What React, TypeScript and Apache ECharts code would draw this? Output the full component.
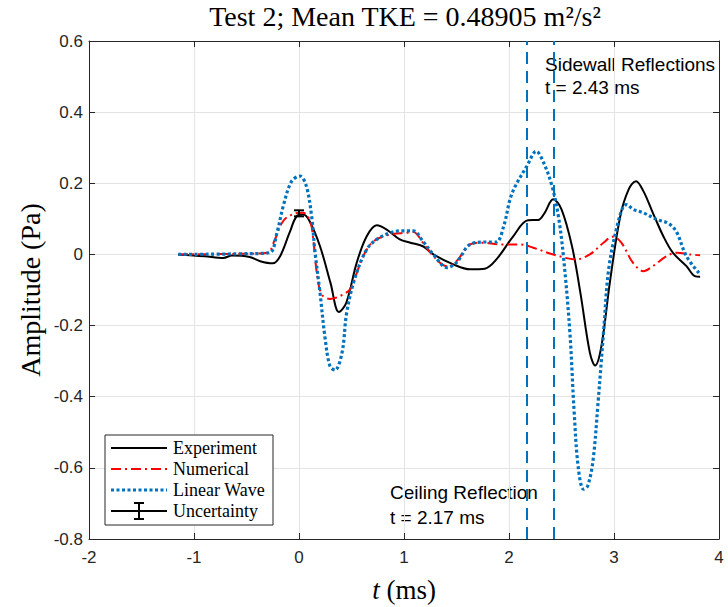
import React, { useEffect, useRef } from "react";
import * as echarts from "echarts";

// ---- data ----
const expTime = [-1.15, -0.9, -0.72, -0.64, -0.47, -0.37, -0.25, -0.18, -0.09, -0.02, 0.04, 0.1, 0.2, 0.3, 0.38, 0.45, 0.55, 0.645, 0.74, 0.835, 0.96, 1.06, 1.18, 1.28, 1.47, 1.63, 1.77, 1.88, 2.04, 2.18, 2.28, 2.34, 2.42, 2.5, 2.6, 2.68, 2.77, 2.82, 2.88, 2.96, 3.06, 3.14, 3.21, 3.28, 3.37, 3.47, 3.56, 3.69, 3.77, 3.82];
const expAmp = [0, -0.005, -0.01, -0.003, -0.007, -0.019, -0.025, -0.005, 0.061, 0.108, 0.112, 0.094, 0.023, -0.08, -0.162, -0.136, -0.023, 0.051, 0.082, 0.07, 0.042, 0.033, 0.023, 0, -0.028, -0.042, -0.04, -0.014, 0.051, 0.096, 0.097, 0.117, 0.155, 0.127, 0.023, -0.108, -0.276, -0.312, -0.258, -0.08, 0.108, 0.183, 0.206, 0.178, 0.117, 0.051, 0.005, -0.033, -0.061, -0.063];

const numTime = [-1.15, -0.5, -0.3, -0.23, -0.15, -0.05, 0.04, 0.105, 0.136, 0.17, 0.216, 0.295, 0.39, 0.486, 0.55, 0.61, 0.71, 0.867, 1.03, 1.09, 1.18, 1.28, 1.41, 1.5, 1.63, 1.755, 1.91, 2.1, 2.23, 2.42, 2.64, 2.77, 2.9, 2.99, 3.07, 3.18, 3.28, 3.37, 3.5, 3.6, 3.72, 3.82];
const numAmp = [0, 0.002, 0.005, 0.042, 0.094, 0.114, 0.117, 0.094, 0.042, -0.052, -0.112, -0.125, -0.117, -0.098, -0.052, -0.005, 0.037, 0.056, 0.061, 0.063, 0.033, -0.005, -0.033, -0.019, 0.028, 0.033, 0.028, 0.028, 0.019, 0, -0.014, 0, 0.033, 0.05, 0.033, -0.023, -0.047, -0.033, -0.005, 0.005, 0, -0.002];

const linTime = [-1.15, -0.5, -0.28, -0.21, -0.15, -0.07, 0.01, 0.07, 0.12, 0.15, 0.2, 0.25, 0.295, 0.343, 0.41, 0.454, 0.533, 0.645, 0.74, 0.867, 0.96, 1.09, 1.18, 1.28, 1.41, 1.5, 1.63, 1.79, 1.88, 1.95, 2.01, 2.06, 2.17, 2.26, 2.33, 2.41, 2.47, 2.52, 2.58, 2.62, 2.66, 2.71, 2.75, 2.8, 2.85, 2.9, 2.95, 3.03, 3.09, 3.12, 3.18, 3.28, 3.41, 3.5, 3.55, 3.6, 3.69, 3.82];
const linAmp = [0, 0.002, 0.005, 0.061, 0.136, 0.206, 0.22, 0.192, 0.108, 0.014, -0.108, -0.239, -0.314, -0.325, -0.276, -0.164, -0.066, 0.014, 0.042, 0.061, 0.066, 0.066, 0.037, 0, -0.037, -0.023, 0.028, 0.035, 0.035, 0.08, 0.155, 0.192, 0.248, 0.29, 0.258, 0.192, 0.108, -0.01, -0.22, -0.44, -0.6, -0.66, -0.65, -0.58, -0.41, -0.22, -0.04, 0.08, 0.136, 0.14, 0.127, 0.117, 0.098, 0.09, 0.08, 0.061, -0.005, -0.056];

const errTime = [0];
const errLow = [0.107];
const errHigh = [0.124];

const reflectionTimes = [2.17, 2.43];
const reflectionNames = ["Ceiling Reflection", "Sidewall Reflections"];
const legendNames = ["Experiment", "Numerical", "Linear Wave", "Uncertainty"];

const TICK_FONT = "'Liberation Sans', Arial, Helvetica, sans-serif";
const SERIF = "'Liberation Serif', 'Times New Roman', serif";
const AXIS_COLOR = "#262626";

const pairs = (t: number[], v: number[]) => t.map((x, i) => [x, v[i]]);

export default function App() {
  const ref = useRef<HTMLDivElement>(null);
  useEffect(() => {
    if (!ref.current) return;
    const chart = echarts.init(ref.current, null, { renderer: "svg" });

    const axisCommon = {
      type: "value" as const,
      axisLine: { show: true, onZero: false, lineStyle: { color: AXIS_COLOR, width: 1 } },
      axisTick: { show: true, inside: true, length: 6, lineStyle: { color: AXIS_COLOR } },
    };

    const lx = 111, lx2 = 167, ly = [448, 469, 490, 511];
    const LZ = 100;
    const seg = (y: number, stroke: string, lineWidth: number, lineDash?: number[]) => ({
      type: "polyline",
      z: LZ + 1,
      shape: { points: [[lx, y], [lx2, y]] },
      style: { stroke, lineWidth, fill: null, lineDash: lineDash || null },
    });
    const bar = (x1: number, y1: number, x2: number, y2: number) => ({
      type: "polyline",
      z: LZ + 1,
      shape: { points: [[x1, y1], [x2, y2]] },
      style: { stroke: "#000000", lineWidth: 2, fill: null },
    });

    const option: any = {
      animation: false,
      backgroundColor: "#ffffff",
      grid: { left: 89, right: 9, top: 41, bottom: 68, containLabel: false },
      xAxis: [
        {
          ...axisCommon,
          position: "bottom",
          min: -2, max: 4, interval: 1,
          axisLabel: { color: AXIS_COLOR, fontSize: 17, fontFamily: TICK_FONT, margin: 10 },
          splitLine: { show: true, lineStyle: { color: "#e4e4e4", width: 1 } },
        },
        {
          ...axisCommon,
          position: "top",
          min: -2, max: 4, interval: 1,
          axisLabel: { show: false },
          splitLine: { show: false },
        },
      ],
      yAxis: [
        {
          ...axisCommon,
          position: "left",
          min: -0.8, max: 0.6, interval: 0.2,
          axisLabel: {
            color: AXIS_COLOR, fontSize: 17, fontFamily: TICK_FONT, margin: 6,
            formatter: (v: number) => (Math.abs(v) < 1e-9 ? "0" : v.toFixed(1)),
          },
          splitLine: { show: true, lineStyle: { color: "#e4e4e4", width: 1 } },
        },
        {
          ...axisCommon,
          position: "right",
          min: -0.8, max: 0.6, interval: 0.2,
          axisLabel: { show: false },
          splitLine: { show: false },
        },
      ],
      series: [
        {
          name: legendNames[0],
          type: "line",
          data: pairs(expTime, expAmp),
          showSymbol: false,
          smooth: 0.35,
          lineStyle: { color: "#000000", width: 2 },
          z: 2,
        },
        {
          name: legendNames[1],
          type: "line",
          data: pairs(numTime, numAmp),
          showSymbol: false,
          smooth: 0.35,
          lineStyle: { color: "#ff0000", width: 2, type: [10, 4, 2, 4] },
          z: 3,
        },
        {
          name: legendNames[2],
          type: "line",
          data: pairs(linTime, linAmp),
          showSymbol: false,
          smooth: 0.35,
          lineStyle: { color: "#0072BD", width: 3.2, type: [3, 2.5], cap: "butt" },
          z: 4,
        },
        {
          name: legendNames[3],
          type: "custom",
          data: errTime.map((t, i) => [t, errLow[i], errHigh[i]]),
          encode: { x: 0, y: [1, 2] },
          z: 5,
          renderItem: (_p: any, api: any) => {
            const lo = api.coord([api.value(0), api.value(1)]);
            const hi = api.coord([api.value(0), api.value(2)]);
            const st = { stroke: "#000000", lineWidth: 2 };
            return {
              type: "group",
              children: [
                { type: "line", shape: { x1: lo[0], y1: lo[1], x2: hi[0], y2: hi[1] }, style: st },
                { type: "line", shape: { x1: lo[0] - 5, y1: lo[1], x2: lo[0] + 5, y2: lo[1] }, style: st },
                { type: "line", shape: { x1: hi[0] - 5, y1: hi[1], x2: hi[0] + 5, y2: hi[1] }, style: st },
              ],
            };
          },
        },
        {
          name: "reflections",
          type: "line",
          data: [],
          z: 6,
          markLine: {
            silent: true,
            symbol: "none",
            label: { show: false },
            lineStyle: { color: "#0072BD", width: 2, type: [12, 7] },
            data: reflectionTimes.map((t) => ({ xAxis: t })),
          },
        },
      ],
      graphic: [
        {
          type: "text", x: 405, y: 16,
          style: {
            text: "Test 2; Mean TKE = 0.48905 m²/s²",
            font: `28px ${SERIF}`, fill: "#000", align: "center", verticalAlign: "middle",
          },
        },
        {
          type: "text", x: 404, y: 590,
          style: {
            text: "{it|t} (ms)",
            rich: { it: { fontStyle: "italic", fontSize: 27, fontFamily: SERIF, fill: "#000" } },
            font: `27px ${SERIF}`, fill: "#000", align: "center", verticalAlign: "middle",
          },
        },
        {
          type: "text", x: 30, y: 290, rotation: Math.PI / 2,
          style: {
            text: "Amplitude (Pa)",
            font: `28px ${SERIF}`, fill: "#000", align: "center", verticalAlign: "middle",
          },
        },
        {
          type: "text", x: 545, y: 64,
          style: { text: reflectionNames[1], font: `19px ${TICK_FONT}`, fill: "#000", verticalAlign: "middle" },
        },
        {
          type: "text", x: 545, y: 87,
          style: { text: `t = ${reflectionTimes[1].toFixed(2)} ms`, font: `19px ${TICK_FONT}`, fill: "#000", verticalAlign: "middle" },
        },
        {
          type: "text", x: 390, y: 492,
          style: { text: reflectionNames[0], font: `19px ${TICK_FONT}`, fill: "#000", verticalAlign: "middle" },
        },
        {
          type: "text", x: 390, y: 517,
          style: { text: `t = ${reflectionTimes[0].toFixed(2)} ms`, font: `19px ${TICK_FONT}`, fill: "#000", verticalAlign: "middle" },
        },
        { type: "rect", z: LZ, shape: { x: 105, y: 435, width: 168, height: 90 }, style: { fill: "#ffffff", stroke: "#262626", lineWidth: 1 } },
        seg(ly[0], "#000000", 2),
        seg(ly[1], "#ff0000", 2, [10, 4, 2, 4]),
        seg(ly[2], "#0072BD", 3.2, [3, 2.5]),
        seg(ly[3], "#000000", 2),
        bar(139, ly[3] - 8, 139, ly[3] + 8),
        bar(134, ly[3] - 8, 144, ly[3] - 8),
        bar(134, ly[3] + 8, 144, ly[3] + 8),
        ...legendNames.map((n, i) => ({
          type: "text", x: 173, y: ly[i], z: LZ + 1,
          style: { text: n, font: `18px ${SERIF}`, fill: "#000", verticalAlign: "middle" },
        })),
      ],
    };

    chart.setOption(option);
    return () => chart.dispose();
  }, []);

  return (
    <div
      ref={ref}
      style={{ position: "fixed", left: 0, top: 0, width: 728, height: 607, background: "#fff" }}
    />
  );
}
